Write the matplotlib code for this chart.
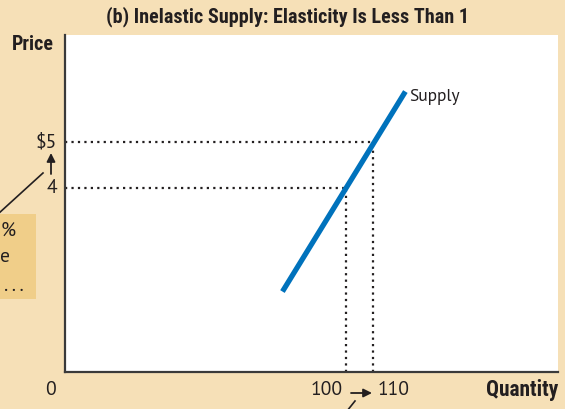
import matplotlib
matplotlib.use("Agg")
import matplotlib.pyplot as plt
from matplotlib.patches import Rectangle, FancyArrowPatch
from matplotlib.lines import Line2D

# ---- data ----
supply_q = [76.5, 122.0]
supply_p = [1.75, 6.1]
points_q = [100, 110]
points_p = [4, 5]
price_labels = ["4", "$5"]
qty_labels = ["100", "110"]
title = "(b) Inelastic Supply: Elasticity Is Less Than 1"
box_lines = ["%", "e", ". . ."]

BG = "#F6E0B7"
BOX = "#F0CE89"
BLUE = "#0072BC"
TXT = "#231F20"
W, H = 565, 409

narrow = ["Roboto Condensed", "DejaVu Sans"]
plain = ["PT Sans", "DejaVu Sans"]

fig = plt.figure(figsize=(W / 100, H / 100), dpi=100, facecolor=BG)

def fx(px):
    return px / W

def fy(py):
    return 1 - py / H

ax = fig.add_axes([fx(65), fy(372), fx(558) - fx(65), fy(35) - fy(372)])
ax.set_facecolor("white")
ax.set_xlim(-4, 178.5)
ax.set_ylim(0, 7.33)
for s in ["top", "right"]:
    ax.spines[s].set_visible(False)
for s in ["left", "bottom"]:
    ax.spines[s].set_color("#3a3a3a")
    ax.spines[s].set_linewidth(1.6)
ax.set_xticks([])
ax.set_yticks([])

# dotted guides
for q, p in zip(points_q, points_p):
    ax.plot([-4, q], [p, p], color=TXT, lw=1.6, ls=(0, (1, 1.9)))
    ax.plot([q, q], [0, p], color=TXT, lw=1.6, ls=(0, (1, 1.9)))

ax.plot(supply_q, supply_p, color=BLUE, lw=3.8, solid_capstyle="butt")
ax.text(supply_q[1] + 1.3, supply_p[1] - 0.12, "Supply", fontsize=12.5,
        family=plain, color=TXT, ha="left", va="center")

# tick-like labels on the price axis
for lab, p in zip(price_labels, points_p):
    fig.text(fx(57), ax.transData.transform((0, p))[1] / H, lab,
             fontsize=14, family=plain, color=TXT, ha="right", va="center")

# quantity labels
qx = [327, 394]
for lab, x in zip(qty_labels, qx):
    fig.text(fx(x), fy(390), lab, fontsize=14, family=plain, color=TXT,
             ha="center", va="center")
fig.text(fx(51), fy(390), "0", fontsize=14, family=plain, color=TXT,
         ha="center", va="center")

# axis titles and title
fig.text(fx(288), fy(17), title, fontsize=14.5, family=narrow,
         fontweight="bold", color=TXT, ha="center", va="center")
fig.text(fx(12), fy(44), "Price", fontsize=14.5, family=narrow,
         fontweight="bold", color=TXT, ha="left", va="center")
fig.text(fx(558), fy(390), "Quantity", fontsize=15.5, family=narrow,
         fontweight="bold", color=TXT, ha="right", va="center")

# annotation box on the left (cut off by the figure edge)
fig.patches.append(Rectangle((fx(-5), fy(299)), fx(41), fy(214) - fy(299),
                             transform=fig.transFigure, facecolor=BOX,
                             edgecolor="none", zorder=1))
box_x = [1, 0, 4]
box_y = [231, 257, 286]
for t, lx, y in zip(box_lines, box_x, box_y):
    fig.text(fx(lx), fy(y), t, fontsize=14, family=plain, color=TXT,
             ha="left", va="center", zorder=2)

# pointer lines and arrows
fig.lines.append(Line2D([fx(-2), fx(43)], [fy(214), fy(173)],
                        transform=fig.transFigure, color=TXT, lw=1.2))
fig.patches.append(FancyArrowPatch((fx(51), fy(174)), (fx(51), fy(153)),
                                   transform=fig.transFigure,
                                   arrowstyle="-|>,head_length=5,head_width=2.5",
                                   color=TXT, lw=1.3, shrinkA=0, shrinkB=0))
fig.patches.append(FancyArrowPatch((fx(351), fy(393)), (fx(372), fy(393)),
                                   transform=fig.transFigure,
                                   arrowstyle="-|>,head_length=5,head_width=2.5",
                                   color=TXT, lw=1.3, shrinkA=0, shrinkB=0))
fig.lines.append(Line2D([fx(355), fx(347)], [fy(401), fy(411)],
                        transform=fig.transFigure, color=TXT, lw=1.2))

fig.savefig("out.png", dpi=100, facecolor=BG)
